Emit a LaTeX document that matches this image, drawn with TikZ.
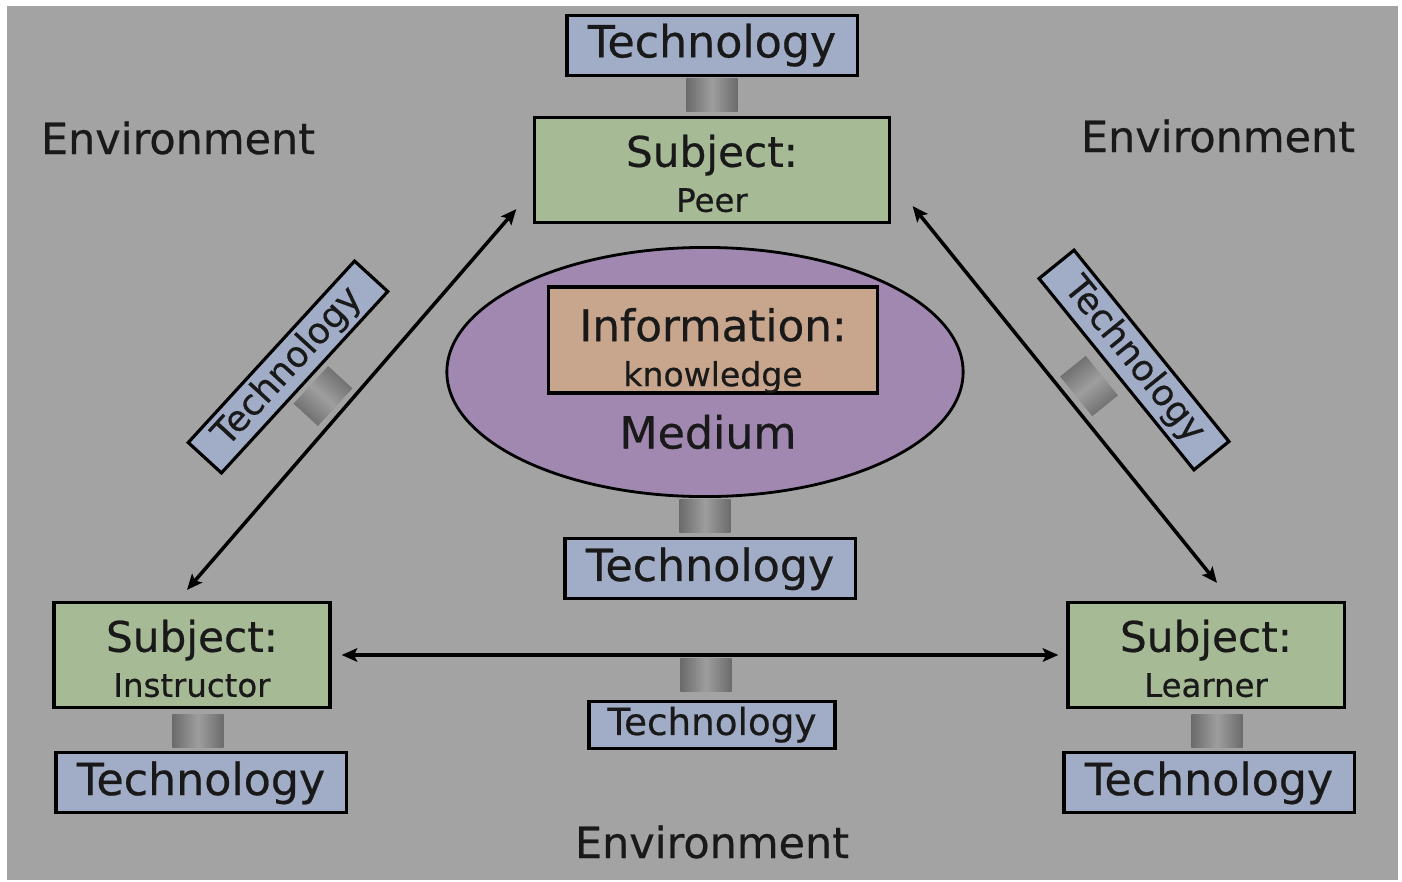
\documentclass[tikz,border=0pt]{standalone}
\usepackage{fontspec}
\setmainfont{DejaVu Sans}[FakeBold=0.5]
\usepackage{tikz}
\usetikzlibrary{arrows.meta,positioning,shapes}

\definecolor{backgray}{RGB}{163,163,163}
\definecolor{techblue}{RGB}{161,173,199}
\definecolor{subjgreen}{RGB}{166,186,150}
\definecolor{infopeach}{RGB}{199,166,141}
\definecolor{mediumviolet}{RGB}{161,136,177}

\newcommand{\bigsize}{\fontsize{12}{12.8}\selectfont}
\newcommand{\smallsize}{\fontsize{9.2}{11}\selectfont}
% taller first line pushes two-line labels down in their box
\newcommand{\lowered}[1]{\rule{0pt}{#1}}

\begin{document}
\begin{tikzpicture}
      [x=0.01cm, y=-0.01cm, semithick, >={Stealth[length=4.4pt, width=3.8pt, inset=0.9pt]},
      every node/.style={text=black!90, inner sep=0pt},
      box/.style={rectangle, draw, line width=0.9pt},
      techbox/.style={box, fill=techblue, minimum width=2.9cm,
        minimum height=0.6cm, font=\fontsize{12.6}{14}\selectfont},
      techsmall/.style={techbox, minimum width=2.46cm, minimum height=0.47cm,
        font=\fontsize{10.6}{12}\selectfont},
      techrot/.style={techbox, minimum width=2.46cm, minimum height=0.45cm,
        font=\fontsize{10.2}{12}\selectfont},
      subject/.style={box, fill=subjgreen, align=center, minimum width=2.76cm,
        minimum height=1.05cm, font=\bigsize},
      stub/.style={rectangle, minimum width=0.51cm, minimum height=0.33cm,
        left color=black!58, right color=black!58, middle color=black!38},
      env/.style={font=\fontsize{12.2}{14}\selectfont}]

      % page and grey backdrop
      \useasboundingbox (0,0) rectangle (1402,881);
      \fill[white] (0,0) rectangle (1402,881);
      \fill[backgray] (7,6) rectangle (1398,880);

      \node [env] (envTL) at (178,138) {Environment};
      \node [env] (envTR) at (1218,136) {Environment};
      \node [env] (envB)  at (712,842) {Environment};

      % the three subjects
      \node [subject, minimum width=3.54cm] (peer) at (712,170)
        {\lowered{11.1pt}Subject:\\{\smallsize Peer}};
      \node [subject] (instr) at (192,655)
        {\lowered{11.1pt}Subject:\\{\smallsize Instructor}};
      \node [subject] (learner) at (1206,655)
        {\lowered{11.1pt}Subject:\\{\smallsize Learner}};

      \node [stub, above=0.3mm of peer] (pegPeer) {};
      \node [techbox, above=0.1mm of pegPeer] (techPeer) {Technology};
      \node [stub, below=0.4mm of instr, xshift=0.6mm] (pegInstr) {};
      \node [techbox, below=0.3mm of pegInstr, xshift=0.3mm] (techInstr) {Technology};
      \node [stub, below=0.4mm of learner, xshift=1.1mm] (pegLearner) {};
      \node [techbox, below=0.3mm of pegLearner, xshift=-0.8mm] (techLearner) {Technology};

      % medium in the middle
      \node [ellipse, draw, line width=0.8pt, fill=mediumviolet,
        minimum width=5.16cm, minimum height=2.49cm] (med) at (705,372) {};
      \node [box, fill=infopeach, align=center, minimum width=3.28cm,
        minimum height=1.03cm, font=\fontsize{12.4}{12.8}\selectfont]
        (info) at (713,340) {\lowered{15.4pt}Information:\\{\fontsize{9.4}{11}\selectfont knowledge}};
      \node [font=\fontsize{12.6}{14}\selectfont] (medLabel) at (708,432) {Medium};
      \node [stub, below=0mm of med] (pegMed) {};
      \node [techbox, below=0.4mm of pegMed, xshift=0.5mm] (techMed) {Technology};

      % links between subjects
      \draw [<->, line width=1pt] ([shift={(-17,-15)}]peer.south west)
        -- ([shift={(-5,-11)}]instr.north);
      \draw [<->, line width=1pt] ([shift={(22,-18)}]peer.south east)
        -- ([shift={(11,-18)}]learner.north);
      \draw [<->, line width=1pt, shorten <=1mm, shorten >=0.8mm] (instr) -- (learner);

      \node [stub, rotate=47.5, shading angle=137.5] (pegLeft) at (323,396) {};
      \node [techrot, rotate=47.5] (techLeft) at (288,367) {Technology};
      \node [stub, rotate=-51, shading angle=39] (pegRight) at (1089,386) {};
      \node [techrot, rotate=-51] (techRight) at (1134,360) {Technology};
      \node [stub] (pegLow) at (706,675) {};
      \node [techsmall, below=0.7mm of pegLow, xshift=0.6mm] (techLow) {Technology};
    \end{tikzpicture}
\end{document}
